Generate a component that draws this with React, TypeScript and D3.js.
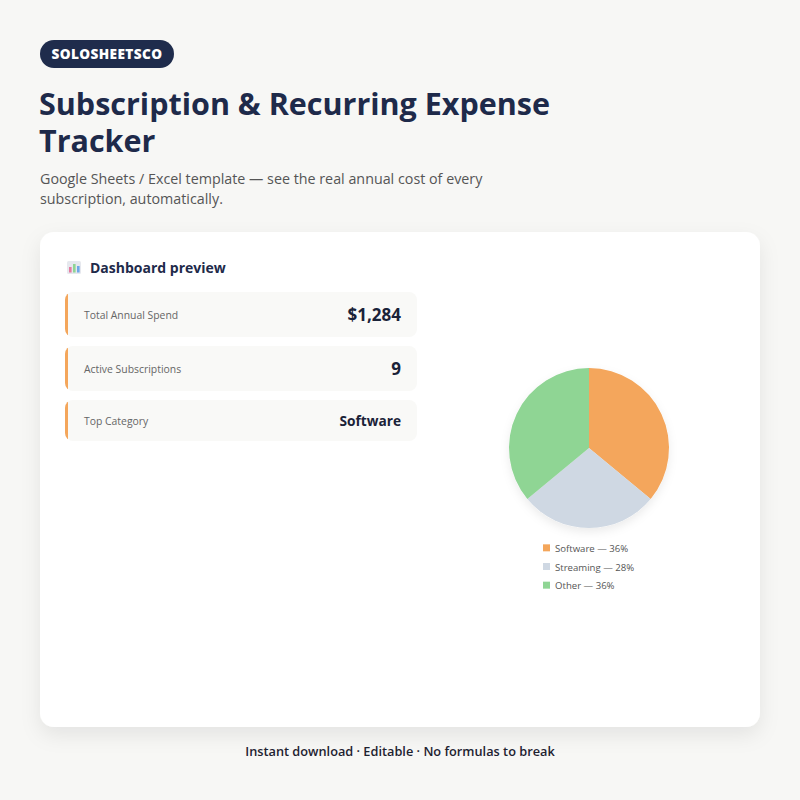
import { useEffect, useRef } from 'react'
import * as d3 from 'd3'

const categories = ['Software', 'Streaming', 'Other']
const shares = [36, 28, 36]
const sliceColors = ['#F4A65B', '#CFD8E3', '#8FD594']

const kpiLabels = ['Total Annual Spend', 'Active Subscriptions', 'Top Category']
const kpiValues = ['$1,284', '9', 'Software']

const FONT = '"Open Sans", "Noto Sans", sans-serif'

export default function App() {
  const svgRef = useRef<SVGSVGElement>(null)

  useEffect(() => {
    if (!svgRef.current) return
    const svg = d3.select(svgRef.current)
    svg.selectAll('*').remove()

    const defs = svg.append('defs')
    const sh = defs.append('filter').attr('id', 'cardShadow')
      .attr('x', '-10%').attr('y', '-10%').attr('width', '120%').attr('height', '125%')
    sh.append('feDropShadow').attr('dx', 0).attr('dy', 8).attr('stdDeviation', 10)
      .attr('flood-color', '#000').attr('flood-opacity', 0.08)
    const ps = defs.append('filter').attr('id', 'pieShadow')
      .attr('x', '-30%').attr('y', '-30%').attr('width', '160%').attr('height', '160%')
    ps.append('feDropShadow').attr('dx', 0).attr('dy', 4).attr('stdDeviation', 5)
      .attr('flood-color', '#000').attr('flood-opacity', 0.08)

    // background
    svg.append('rect').attr('width', 800).attr('height', 800).attr('fill', '#F7F7F5')

    // badge
    svg.append('rect').attr('x', 40).attr('y', 40).attr('width', 134).attr('height', 28)
      .attr('rx', 14).attr('fill', '#1F2C4C')
    svg.append('text').attr('x', 107).attr('y', 59).attr('text-anchor', 'middle')
      .attr('fill', '#fff').attr('font-family', FONT).attr('font-weight', 800)
      .attr('font-size', 13.6).attr('letter-spacing', 0.4).text('SOLOSHEETSCO')

    // title
    const title = svg.append('text').attr('font-family', FONT).attr('font-weight', 700)
      .attr('font-size', 30.5).attr('fill', '#1E2A4A')
    title.append('tspan').attr('x', 39).attr('y', 115).text('Subscription & Recurring Expense')
    title.append('tspan').attr('x', 39).attr('y', 152).text('Tracker')

    const sub = svg.append('text').attr('font-family', FONT).attr('font-size', 14.3)
      .attr('fill', '#555')
    sub.append('tspan').attr('x', 40).attr('y', 184).text('Google Sheets / Excel template — see the real annual cost of every')
    sub.append('tspan').attr('x', 40).attr('y', 204).text('subscription, automatically.')

    // main card
    svg.append('rect').attr('x', 40).attr('y', 232).attr('width', 720).attr('height', 495)
      .attr('rx', 14).attr('fill', '#fff').attr('filter', 'url(#cardShadow)')

    // header icon (bar chart)
    const icon = svg.append('g').attr('transform', 'translate(67,261)')
    icon.append('rect').attr('width', 14).attr('height', 13).attr('rx', 1.5).attr('fill', '#E6E8EE')
    ;[[2, 6, '#E57BA0'], [6, 3, '#8FD594'], [10, 5, '#6EA8E8']].forEach(([x, y, c]) => {
      icon.append('rect').attr('x', x as number).attr('y', y as number)
        .attr('width', 2.6).attr('height', 13 - 1.5 - (y as number)).attr('fill', c as string)
    })
    svg.append('text').attr('x', 90).attr('y', 273).attr('font-family', FONT)
      .attr('font-weight', 700).attr('font-size', 14).attr('fill', '#1E2A4A').text('Dashboard preview')

    // KPI rows
    const rowY = d3.scaleOrdinal<string, number>().domain(kpiLabels).range([292, 346, 400])
    const rowH = [45, 45, 41]
    kpiLabels.forEach((lab, i) => {
      const y = rowY(lab)
      const g = svg.append('g')
      const clipId = `clip${i}`
      defs.append('clipPath').attr('id', clipId).append('rect')
        .attr('x', 65).attr('y', y).attr('width', 352).attr('height', rowH[i]).attr('rx', 8)
      g.append('rect').attr('x', 65).attr('y', y).attr('width', 352).attr('height', rowH[i])
        .attr('rx', 8).attr('fill', '#F9F9F7')
      g.append('rect').attr('x', 65).attr('y', y).attr('width', 3).attr('height', rowH[i])
        .attr('fill', '#F4A65B').attr('clip-path', `url(#${clipId})`)
      g.append('text').attr('x', 84).attr('y', y + rowH[i] / 2 + 4).attr('font-family', FONT)
        .attr('font-size', 10.4).attr('fill', '#666').text(lab)
      g.append('text').attr('x', 401).attr('y', y + rowH[i] / 2 + (i === 2 ? 5 : 6))
        .attr('text-anchor', 'end').attr('font-family', FONT).attr('font-weight', 700)
        .attr('font-size', i === 2 ? 13.7 : 17).attr('fill', '#1A2238').text(kpiValues[i])
    })

    // pie
    const cx = 589, cy = 448, r = 80
    const pie = d3.pie<number>().sort(null).value(d => d)
    const arc = d3.arc<d3.PieArcDatum<number>>().innerRadius(0).outerRadius(r)
    const pg = svg.append('g').attr('transform', `translate(${cx},${cy})`).attr('filter', 'url(#pieShadow)')
    pg.selectAll('path').data(pie(shares)).enter().append('path')
      .attr('d', arc).attr('fill', (_, i) => sliceColors[i])

    // legend
    const ly = d3.scaleBand().domain(categories).range([539, 595])
    categories.forEach((c, i) => {
      const y = (ly(c) || 0) + ly.bandwidth() / 2
      svg.append('rect').attr('x', 543).attr('y', y - 4).attr('width', 7).attr('height', 7)
        .attr('fill', sliceColors[i])
      svg.append('text').attr('x', 555).attr('y', y + 3.5).attr('font-family', FONT)
        .attr('font-size', 9.6).attr('fill', '#555').text(`${c} — ${shares[i]}%`)
    })

    // footer
    svg.append('text').attr('x', 400).attr('y', 756).attr('text-anchor', 'middle')
      .attr('font-family', FONT).attr('font-weight', 600).attr('font-size', 12.75)
      .attr('fill', '#1E2230').text('Instant download · Editable · No formulas to break')
  }, [])

  return (
    <svg ref={svgRef} width={800} height={800}
      style={{ position: 'absolute', left: 0, top: 0, display: 'block' }} />
  )
}
